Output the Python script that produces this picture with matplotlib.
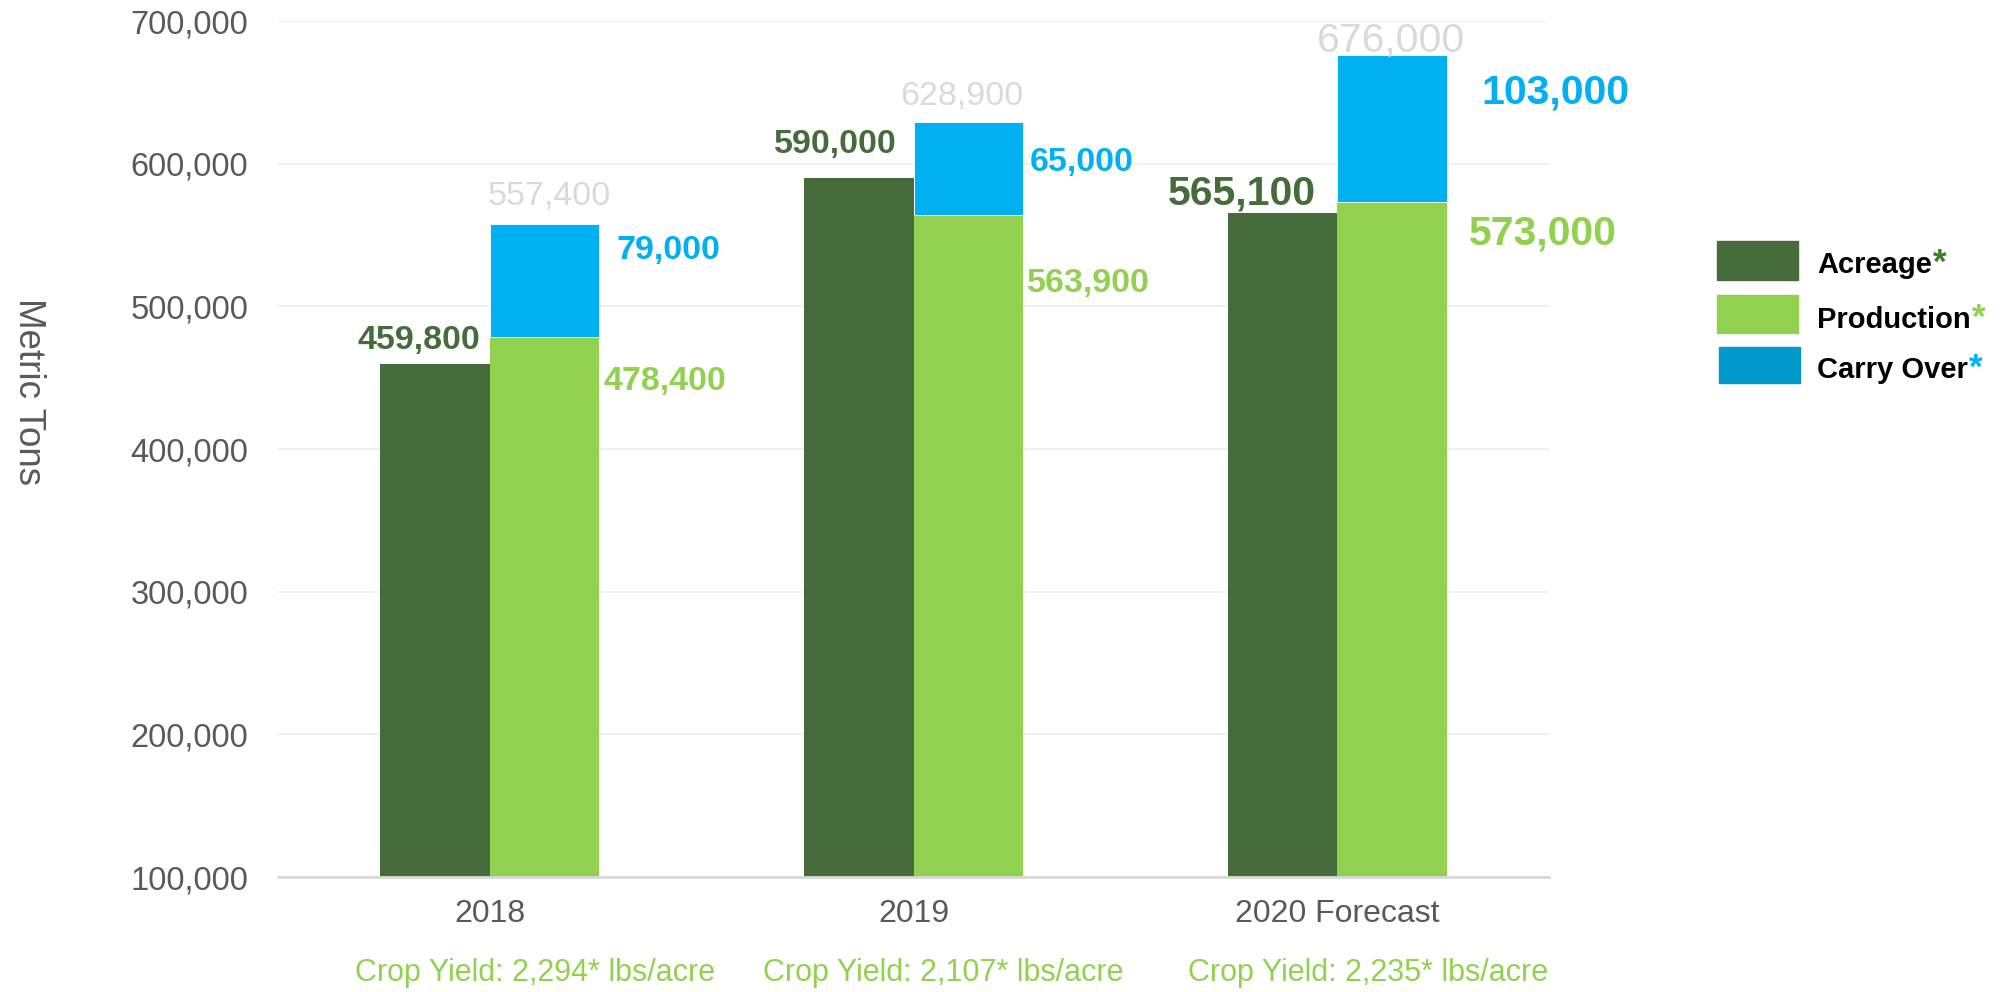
import numpy as np
import matplotlib
matplotlib.use("Agg")
import matplotlib.pyplot as plt
from matplotlib.patches import Rectangle

plt.rcParams['font.family'] = ['Liberation Sans', 'DejaVu Sans']

# ---------------- data ----------------
categories = ["2018", "2019", "2020 Forecast"]
acreage = [459800, 590000, 565100]
production = [478400, 563900, 573000]
carry_over = [79000, 65000, 103000]
totals = [557400, 628900, 676000]
crop_yield = ["Crop Yield: 2,294* lbs/acre", "Crop Yield: 2,107* lbs/acre",
              "Crop Yield: 2,235* lbs/acre"]
yticks = [100000, 200000, 300000, 400000, 500000, 600000, 700000]
series_names = ["Acreage", "Production", "Carry Over"]

# ---------------- style ----------------
C_ACR = "#466C3B"
C_PROD = "#92D050"
C_CARRY = "#00B0F0"
C_CARRY_LEG = "#0099CC"
C_TOTAL = "#D9D9D9"
C_TEXT = "#595959"
AST_COLORS = ["#3A7D22", C_PROD, C_CARRY]

W, H = 2010, 992
fig = plt.figure(figsize=(W / 100, H / 100), dpi=100)
ax = fig.add_axes([278 / W, 1 - 877 / H, (1549 - 278) / W, (877 - 21) / H])

x = np.arange(len(categories))
w = 0.2587

ax.bar(x - w / 2, acreage, w, color=C_ACR, zorder=2)
ax.bar(x + w / 2, production, w, color=C_PROD, zorder=2)
ax.bar(x + w / 2, carry_over, w, bottom=production, color=C_CARRY, zorder=2,
       edgecolor="white", linewidth=0.6)

ax.set_xlim(-0.5, 2.5)
ax.set_ylim(100000, 700000)
ax.set_yticks(yticks)
ax.set_yticklabels([f"{v:,}" for v in yticks], fontsize=23.5, color=C_TEXT)
ax.set_xticks(x)
ax.set_xticklabels(categories, fontsize=23, color=C_TEXT)
ax.tick_params(axis="y", length=0, pad=21.5)
ax.tick_params(axis="x", length=0, pad=16)
ax.grid(axis="y", color="#F0F0F0", linewidth=1.5, zorder=0)
for s in ["left", "right", "top"]:
    ax.spines[s].set_visible(False)
ax.spines["bottom"].set_color("#D9D9D9")
ax.spines["bottom"].set_linewidth(2)
ax.spines["bottom"].set_zorder(3)

# ---------------- data labels ----------------
fs = [24.5, 24.5, 29.5]
acr_off = [(-10, 27), (-17, 37), (-21, 24)]
prod_off = [(4, -41), (4, -65), (22, -28)]
carry_off = [(17, -22), (7, -36), (35, -34)]
tot_off = [(5, 32), (-6, 30), (-1, 18)]
yield_dx = [0.106, 0.071, 0.073]


def lab(text, xy, off, size, color, ha, weight="bold"):
    ax.annotate(text, xy=xy, xytext=(off[0] * 0.72, off[1] * 0.72 - 0.358 * size),
                textcoords="offset points", ha=ha, va="baseline",
                fontsize=size, color=color, fontweight=weight, zorder=5)


for i in range(len(categories)):
    lab(f"{acreage[i]:,}", (x[i], acreage[i]), acr_off[i], fs[i], C_ACR, "right")
    lab(f"{production[i]:,}", (x[i] + w, production[i]), prod_off[i], fs[i], C_PROD, "left")
    lab(f"{carry_over[i]:,}", (x[i] + w, totals[i]), carry_off[i], fs[i], C_CARRY, "left")
    lab(f"{totals[i]:,}", (x[i] + w / 2, totals[i]), tot_off[i], fs[i], C_TOTAL, "center",
        weight="normal")
    ax.annotate(crop_yield[i], xy=(x[i] + yield_dx[i], 1 - 981 / H),
                xycoords=("data", "figure fraction"), ha="center", va="baseline",
                fontsize=22, color=C_PROD, annotation_clip=False)

# ---------------- y label ----------------
fig.text(28 / W, 1 - 392 / H, "Metric Tons", rotation=-90, ha="center", va="center",
         fontsize=26.5, color=C_TEXT)

# ---------------- legend ----------------
leg_patches = [(1717, 241, 81, 39, C_ACR), (1717, 295, 81, 38, C_PROD),
               (1719, 347, 81, 36, C_CARRY_LEG)]
leg_text_y = [262, 317, 367]
for (px, py, pw, ph, col), name, ty, acol in zip(leg_patches, series_names, leg_text_y,
                                                  AST_COLORS):
    fig.add_artist(Rectangle((px / W, 1 - (py + ph) / H), pw / W, ph / H,
                             transform=fig.transFigure, color=col))
    t = fig.text(1817 / W, 1 - ty / H, name, ha="left", va="center_baseline",
                 fontsize=21, fontweight="bold", color="black")
    plt.annotate("*", xy=(1, 0.5), xycoords=t, xytext=(1, 1), textcoords="offset points",
                 ha="left", va="center", fontsize=25, fontweight="bold", color=acol)

fig.savefig("out.png", dpi=100, facecolor="white")
